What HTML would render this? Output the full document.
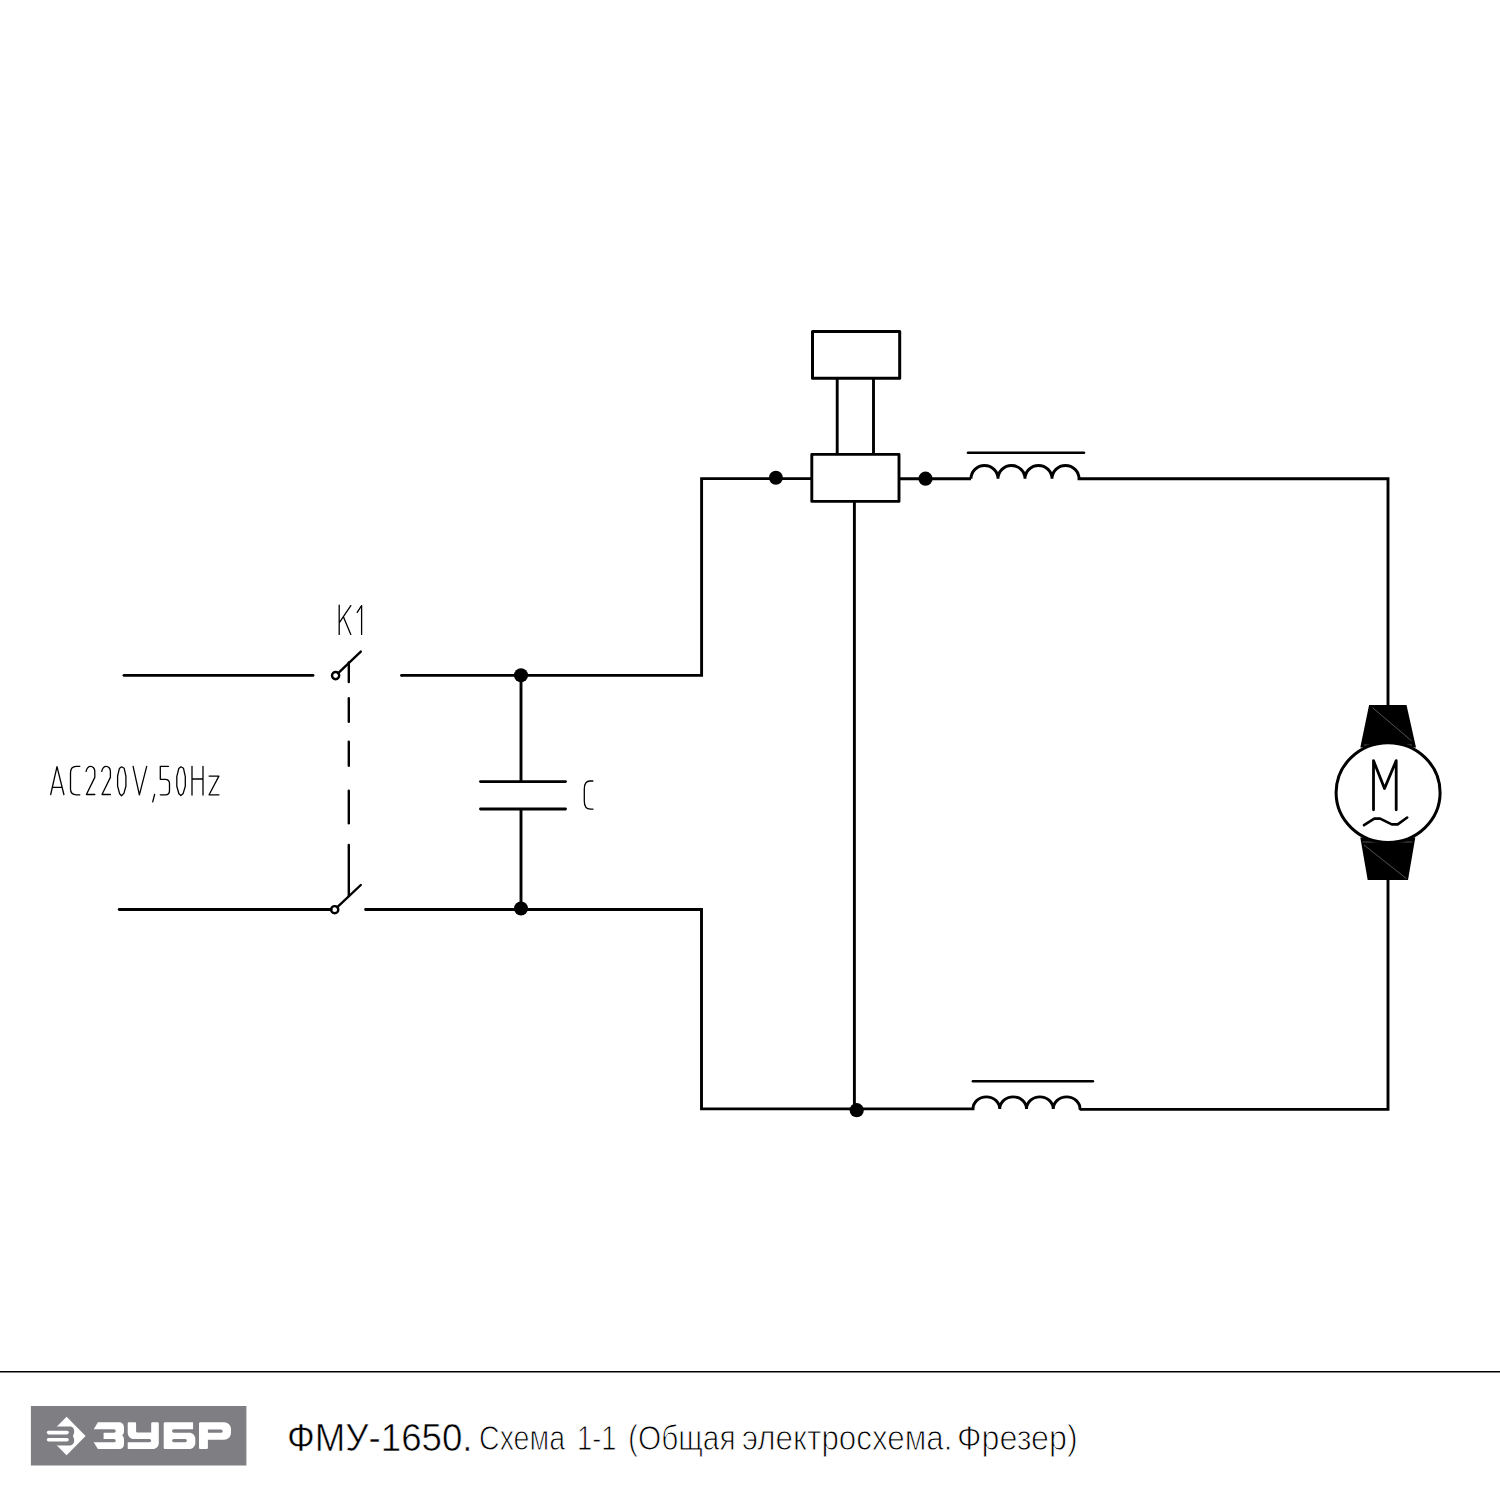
<!DOCTYPE html>
<html><head><meta charset="utf-8">
<style>
html,body{margin:0;padding:0;background:#fff;width:1500px;height:1500px;overflow:hidden}
svg{position:absolute;left:0;top:0}
.l{font-size:35.5px;line-height:35.5px;-webkit-text-stroke:1px #fff}
.t{position:absolute;white-space:nowrap;font-family:"Liberation Sans",sans-serif;color:#000;transform-origin:0 0}
</style></head><body>
<svg width="1500" height="1500" viewBox="0 0 1500 1500">
<g fill="none" stroke="#000" stroke-width="2.9" stroke-linecap="butt" stroke-linejoin="miter">
  <!-- relay top box -->
  <rect x="812.5" y="331.5" width="87.2" height="46.8" stroke-width="3" stroke-linejoin="round"/>
  <line x1="837.2" y1="379" x2="837.2" y2="454"/>
  <line x1="873.5" y1="379" x2="873.5" y2="454"/>
  <!-- relay bottom box -->
  <rect x="811.8" y="454.4" width="87.2" height="47" stroke-linejoin="round"/>
  <!-- upper left wire into switch -->
  <path d="M401.5,675.4 H701.6 V478.6 H811.8" /><circle cx="401.5" cy="675.4" r="1.45" fill="#000" stroke="none"/>
  <path d="M899,478.8 H971" />
  <!-- upper inductor -->
  <path d="M971,478.8 A13.4,13.2 0 0 1 998,478.8 A13.4,13.2 0 0 1 1025,478.8 A13.4,13.2 0 0 1 1052,478.8 A13.4,13.2 0 0 1 1079,478.8 H1388 V706" />
  <line x1="968" y1="452.8" x2="1084" y2="452.8" stroke-linecap="round" stroke-width="2.6"/>
  <!-- motor lower wire + bottom -->
  <path d="M1388,879 V1109.4 H1080" />
  <path d="M1080,1108.9 A13.3,12 0 0 0 1053.25,1108.9 A13.3,12 0 0 0 1026.5,1108.9 A13.3,12 0 0 0 999.75,1108.9 A13.3,12 0 0 0 973,1108.9 H701.5 V909.5 H365.6" stroke-linecap="round" />
  <line x1="972.9" y1="1081.2" x2="1092.9" y2="1081.2" stroke-linecap="round" stroke-width="2.6"/>
  <!-- central vertical -->
  <line x1="854.4" y1="501" x2="854.4" y2="1108.5"/>
  <!-- capacitor -->
  <line x1="521" y1="675" x2="521" y2="781.6"/>
  <line x1="521" y1="809" x2="521" y2="909"/>
  <line x1="480.5" y1="781.6" x2="565.5" y2="781.6" stroke-linecap="round"/>
  <line x1="480.5" y1="809" x2="565.5" y2="809" stroke-linecap="round"/>
  <!-- left input wires -->
  <line x1="124" y1="675.4" x2="313" y2="675.4" stroke-linecap="round"/>
  <line x1="119.2" y1="909.5" x2="331" y2="909.5" stroke-linecap="round"/>
  <!-- switches -->
  <g stroke-width="2.4" stroke-linecap="round">
    <circle cx="335.6" cy="675.6" r="3.6"/>
    <line x1="338.2" y1="673.1" x2="360.8" y2="651.6"/>
    <line x1="348.8" y1="662.5" x2="348.8" y2="682"/>
    <line x1="348.8" y1="698.3" x2="348.8" y2="721.7"/>
    <line x1="348.8" y1="741.7" x2="348.8" y2="765.8"/>
    <line x1="348.8" y1="790.8" x2="348.8" y2="823.3"/>
    <line x1="348.8" y1="845" x2="348.8" y2="896"/>
    <circle cx="334.7" cy="909.7" r="3.6"/>
    <line x1="337.3" y1="907.2" x2="360.8" y2="885"/>
  </g>
  <!-- motor -->
  <path d="M1369.1,704.9 H1406.5 L1416,747.4 H1360.3 Z" fill="#000" stroke="none"/>
  <path d="M1360.3,837.6 H1415.3 L1408,880.1 H1367.7 Z" fill="#000" stroke="none"/>
  <g stroke="#fff" stroke-width="0.6" stroke-opacity="0.55">
    <line x1="1372.8" y1="707.9" x2="1411.6" y2="740.9"/>
    <line x1="1364" y1="745" x2="1371" y2="745"/>
    <line x1="1405.5" y1="745" x2="1412" y2="745"/>
    <line x1="1364" y1="845" x2="1406.5" y2="878.7"/>
    <line x1="1362.5" y1="842" x2="1412.4" y2="842"/>
  </g>
  <ellipse cx="1388.1" cy="792.6" rx="52" ry="49.9" fill="#fff" stroke-width="3"/>
  <path d="M1373.5,809.8 V760.6 L1384.5,788.5 L1396.2,760.6 V809.8" stroke-width="2.8" stroke-linecap="round" stroke-linejoin="round"/>
  <path d="M1364,825.2 L1374.3,818.6 H1380.1 L1391.8,824.4 H1397.7 L1407.2,817.5" stroke-width="2.6" stroke-linecap="round" stroke-linejoin="round"/>
  <!-- CAD text -->
  <g stroke-width="1.3" stroke-linecap="round" stroke-linejoin="round">
    <path d="M339.2,605.2 V634.4 M350.8,605.6 L339.2,622.8 M343.6,617.2 L350.8,634.4"/>
    <path d="M357.2,612.4 L361.6,605.6 V634.4"/>
    <path d="M50.7,794.5 L57,766.6 L63.9,794.5 M52.5,787.3 H61.8"/>
    <path d="M79.8,766.3 H76.2 C72.5,766.3 70.5,769 70.5,773 V789 C70.5,792.5 72.5,794.8 76.5,794.8 H79.8"/>
    <path d="M86.1,771.4 C86.8,768 88.5,766.3 90.6,766.3 C92.8,766.3 94.8,768.5 94.8,771.4 V777.4 L86.4,794.5 H94.8"/>
    <path d="M101.7,771.4 C102.4,768 104.1,766.3 106.2,766.3 C108.4,766.3 110.4,768.5 110.4,771.4 V777.4 L102,794.5 H110.4"/>
    <path d="M121.5,766.8 L119.4,768.4 L117.6,776.2 V786.2 L119.6,793.7 L121.5,795.7 L123.9,793.4 L125.9,786.3 V776.2 L124.2,768.3 Z"/>
    <path d="M133.1,766.3 L139.4,794.8 L146.7,766.3"/>
    <path d="M154.6,794.5 L152.7,801.8"/>
    <path d="M168.5,766.3 H160.3 V779.3 H165 C167.8,779.3 169.5,781 169.5,783.5 V790.5 C169.5,793 167.8,794.8 165.5,794.8 H160.3"/>
    <path d="M180.9,766.8 L178.8,768.4 L176.8,776.6 V786.2 L178.9,793.7 L180.9,795.5 L183.2,793.4 L185.3,786.3 V776.6 L183.5,768.3 Z"/>
    <path d="M192,766.3 V795.1 M203,766.3 V795.1 M192,779 H203"/>
    <path d="M209.1,776.1 H218.9 L209.1,794.8 H218.9"/>
    <path d="M592.9,781 H590 C586.5,781 584.3,784 584.3,789 V801 C584.3,806 586.5,809.2 590.5,809.2 H592.9"/>
  </g>
</g>
<!-- dots -->
<g fill="#000">
  <circle cx="775.9" cy="477.8" r="7"/>
  <circle cx="925.5" cy="478.7" r="7.1"/>
  <circle cx="521" cy="675.2" r="7"/>
  <circle cx="521" cy="908.5" r="7"/>
  <circle cx="856.7" cy="1110.2" r="7.1"/>
</g>
<!-- footer -->
<rect x="0" y="1371" width="1500" height="1.5" fill="#000"/>
<rect x="30.9" y="1406" width="215.5" height="59.5" fill="#7f7e83"/>
<g fill="#fff">
  <path d="M66.6,1416.8 L85.6,1436 L66.6,1455.2 L47.4,1436 Z"/>
</g>
<path d="M40,1426.6 H70 C72.5,1426.6 74.2,1428.5 74.2,1431.5 C74.2,1433.5 73.3,1435 72.8,1436 C73.3,1437 74.2,1438.5 74.2,1440.5 C74.2,1443.5 72.5,1445.4 70,1445.4 H40 Z" fill="#7f7e83"/>
<g fill="#fff">
  <rect x="46.8" y="1430.8" width="22" height="3.6" rx="1.8"/>
  <rect x="46.8" y="1438" width="22" height="3.5" rx="1.75"/>
  <!-- З -->
  <path d="M97.9,1422.2 H119.5 C122,1422.2 124,1424.6 124,1427.5 V1431.5 C124,1433.2 123,1434.6 122.1,1435.3 C123,1436 124,1437.4 124,1439.5 V1444.5 C124,1447.2 122,1449.1 119.5,1449.1 H97.9 L93.7,1442.3 H114.1 A1.6,1.6 0 0 0 114.1,1439 H103.6 V1432.8 H114 A1.75,1.75 0 0 0 114,1429.3 H93.7 Z"/>
  <!-- У -->
  <path d="M127.7,1423.5 C127.7,1422.7 128.3,1422.2 129,1422.2 H134.8 C135.5,1422.2 136.1,1422.7 136.1,1423.5 V1431 C136.1,1431.9 136.8,1432.6 137.7,1432.6 H151.2 V1423.5 C151.2,1422.7 151.8,1422.2 152.5,1422.2 H157.5 C158.2,1422.2 158.8,1422.7 158.8,1423.5 V1443 C158.8,1446.4 156.2,1449.1 152.8,1449.1 H128.7 C128.1,1449.1 127.7,1448.6 127.7,1448 V1442.2 H149.6 A1.6,1.6 0 0 0 149.6,1439 H134 C130.5,1439 127.7,1436.2 127.7,1432.7 Z"/>
  <!-- Б -->
  <path fill-rule="evenodd" d="M165,1422.2 H193.05 V1429.3 H173.8 A1.75,1.75 0 0 0 173.8,1432.8 H189.3 C192.6,1432.8 195.3,1435.5 195.3,1438.8 V1443.1 C195.3,1446.4 192.6,1449.1 189.3,1449.1 H165 C164.3,1449.1 163.7,1448.5 163.7,1447.8 V1423.5 C163.7,1422.8 164.3,1422.2 165,1422.2 Z M173.7,1439 A1.6,1.6 0 0 0 173.7,1442.2 H185.3 A1.6,1.6 0 0 0 185.3,1439 Z"/>
  <!-- Р -->
  <path fill-rule="evenodd" d="M200.3,1422.2 H224 C227.9,1422.2 231,1425.3 231,1429.2 V1432.7 C231,1436.6 227.9,1439.7 224,1439.7 H207.9 V1447.8 C207.9,1448.5 207.3,1449.1 206.6,1449.1 H200.3 C199.6,1449.1 199,1448.5 199,1447.8 V1423.5 C199,1422.8 199.6,1422.2 200.3,1422.2 Z M207.9,1429.6 H221.1 A1.6,1.6 0 0 1 221.1,1432.8 H207.9 Z"/>
</g>
</svg>
<div class="t" style="left:287.4px;top:1419px;font-size:38.8px;line-height:38.8px;-webkit-text-stroke:0.6px #fff;transform:scaleX(0.944)">ФМУ-1650.</div>
<div class="t l" style="left:478.6px;top:1421px;transform:scaleX(0.805)">Схема</div>
<div class="t l" style="left:576.6px;top:1421px;transform:scaleX(0.768)">1-1</div>
<div class="t l" style="left:627.5px;top:1421px;transform:scaleX(0.841)">(Общая</div>
<div class="t l" style="left:742.4px;top:1421px;transform:scaleX(0.8827)">электросхема.</div>
<div class="t l" style="left:956.7px;top:1421px;transform:scaleX(0.908)">Фрезер)</div>
</body></html>
